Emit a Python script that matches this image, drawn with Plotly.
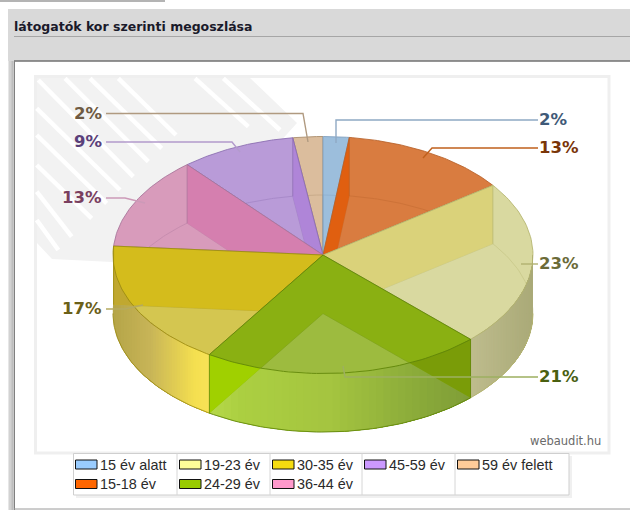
import math
import plotly.graph_objects as go

# ---- data ----
categories = ["15 év alatt", "15-18 év", "19-23 év", "24-29 év", "30-35 év", "36-44 év", "45-59 év", "59 év felett"]
values = [2.0, 13.0, 22.6, 21.5, 17.1, 12.6, 8.9, 2.3]
labels = ["2%", "13%", "23%", "21%", "17%", "13%", "9%", "2%"]
title = "látogatók kor szerinti megoszlása"
watermark = "webaudit.hu"

# ---- styles ----
legend_colors = ["#99ccff", "#ff6600", "#ffff99", "#99cc00", "#f5dc10", "#ff99cc", "#cc99ff", "#ffcc99"]
top_colors = ["#9cbedc", "#d97c40", "#d9d9a0", "#9dbb3f", "#d4c650", "#d89bbb", "#b99bd8", "#dbbd9d"]
edge_colors = ["#7f9fbf", "#b8622a", "#b5b56e", "#5f8408", "#9c8c10", "#a8749a", "#8a6cb0", "#a88a68"]
text_colors = ["#3f5a78", "#7a3508", "#6b6b38", "#4a6010", "#6b6018", "#7a3f5f", "#5a3f7a", "#6e5a42"]
line_colors = ["#8fa9c4", "#c0601c", "#b0b070", "#9db060", "#b5aa60", "#cc9ab8", "#b39bcc", "#b09a80"]
wall_start = {1: "rgba(225,91,8,.85)", 2: "rgba(217,208,112,.8)", 3: "rgba(130,171,0,.7)"}
wall_end = {3: "rgba(130,171,0,.7)", 4: "rgba(212,186,19,.85)", 5: "rgba(213,120,173,.8)", 6: "rgba(172,127,216,.8)"}
outside_start = {3: "#7a9c08"}
outside_end = {3: "#a0d000", 4: "#c0a830"}
draw_order = [7, 0, 1, 6, 5, 2, 4, 3]
side_stops = {
    2: [(470, (191, 189, 142)), (533, (170, 170, 120))],
    3: [(209, (182, 216, 74)), (240, (172, 208, 66)), (330, (165, 197, 64)), (420, (138, 170, 58)), (470, (128, 158, 56))],
    4: [(113, (181, 165, 72)), (150, (200, 181, 88)), (195, (245, 224, 80)), (209, (248, 226, 88))],
}
CX, CY, RX, RY, DEPTH = 323.0, 255.0, 210.0, 118.5, 58.5

# leader routes: anchor -> elbow -> text end, index by category
leaders = {
    0: [(336, 143), (336, 120), (538, 120)],
    1: [(423, 158), (432, 148), (538, 148)],
    2: [(521, 264), (538, 264)],
    3: [(343, 366), (345, 377), (538, 377)],
    4: [(143, 305), (125, 309), (106, 309)],
    5: [(145, 203), (125, 198), (106, 198)],
    6: [(240, 152), (232, 142), (106, 142)],
    7: [(308, 142), (303, 113.5), (106, 113.5)],
}
label_pos = {0: (537, 119.5, "left"), 1: (537, 147.5, "left"), 2: (537, 263.5, "left"), 3: (537, 376.5, "left"),
             4: (104, 308.5, "right"), 5: (104, 197.5, "right"), 6: (104, 141.5, "right"), 7: (104, 113, "right")}

# geometry from values
cum = [0]
for v in values:
    cum.append(cum[-1] + v)
total = cum[-1]
ang = [c / total * 2 * math.pi for c in cum]


def P(t, dy=0.0):
    return CX + RX * math.sin(t), CY - RY * math.cos(t) + dy


def arc(a, b, dy=0.0, n=60):
    return [P(a + (b - a) * i / n, dy) for i in range(n + 1)]


def lerp(stops, x):
    if x <= stops[0][0]:
        return stops[0][1]
    for (x0, c0), (x1, c1) in zip(stops, stops[1:]):
        if x <= x1:
            f = (x - x0) / (x1 - x0)
            return tuple(c0[k] + (c1[k] - c0[k]) * f for k in range(3))
    return stops[-1][1]


fig = go.Figure()


def poly(pts, fill, line="rgba(0,0,0,0)", width=0.0):
    xs = [p[0] for p in pts] + [pts[0][0]]
    ys = [p[1] for p in pts] + [pts[0][1]]
    fig.add_trace(go.Scatter(x=xs, y=ys, mode="lines", fill="toself", fillcolor=fill,
                             line=dict(color=line, width=width), hoverinfo="skip", showlegend=False))


def path(pts, color, width=1.0, opacity=1.0):
    fig.add_trace(go.Scatter(x=[p[0] for p in pts], y=[p[1] for p in pts], mode="lines", opacity=opacity,
                             line=dict(color=color, width=width), hoverinfo="skip", showlegend=False))


def wall(t, color):
    poly([(CX, CY), P(t), P(t, DEPTH), (CX, CY + DEPTH)], color)


def outside_part(t, color):
    a, b = P(t), P(t, DEPTH)
    c = (CX, CY + DEPTH)
    pts = [a, b]
    hit = None
    for i in range(1, 201):
        f = i / 200
        x, y = b[0] + (c[0] - b[0]) * f, b[1] + (c[1] - b[1]) * f
        if ((x - CX) / RX) ** 2 + ((y - CY) / RY) ** 2 <= 1:
            hit = (x, y)
            break
    pts.append(hit)
    th = math.atan2((hit[0] - CX) / RX, -(hit[1] - CY) / RY)
    if th < 0:
        th += 2 * math.pi
    pts += arc(th, t, 0, 30)
    poly(pts, color)


for i in draw_order:
    a, b = ang[i], ang[i + 1]
    top_pts = [(CX, CY)] + arc(a, b)
    poly(top_pts, top_colors[i])
    # bottom face outline seen through the slice
    path([(CX, CY + DEPTH)] + arc(a, b, DEPTH) + [(CX, CY + DEPTH)], edge_colors[i], 1, 0.35)
    # outer side wall, strips overlap so no seams show
    if i in side_stops:
        lo, hi = max(a, math.pi / 2), min(b, 3 * math.pi / 2)
        x_lo = min(P(lo)[0], P(hi)[0])
        x_hi = max(P(lo)[0], P(hi)[0])
        steps = 36
        # equal widths in x, painted so that each strip overlaps its neighbour
        for k in range(steps):
            xa = x_lo + (x_hi - x_lo) * k / steps
            col = lerp(side_stops[i], xa + (x_hi - x_lo) / steps / 2)
            css = "rgb(%d,%d,%d)" % col
            # angle on the front half for this x
            ta = math.pi - math.asin(max(-1, min(1, (xa - CX) / RX)))
            ta = max(lo, min(hi, ta))
            # paint from this x across to the right end of the slice side
            start, end = (lo, ta) if lo < ta else (ta, lo)
            poly(arc(start, end, 0, 40) + arc(end, start, DEPTH, 40), css)
        path(arc(lo, hi, DEPTH), edge_colors[i], 1, 0.8)
    if i in wall_start:
        wall(a, wall_start[i])
    if i in wall_end:
        wall(b, wall_end[i])
    if i in outside_start:
        outside_part(a, outside_start[i])
    if i in outside_end:
        outside_part(b, outside_end[i])
    if i in wall_start:
        path([P(a), P(a, DEPTH)], edge_colors[i], 1, 0.7)
    if i in wall_end:
        path([P(b), P(b, DEPTH)], edge_colors[i], 1, 0.7)
    path([(CX, CY)] + arc(a, b) + [(CX, CY)], edge_colors[i], 1, 0.85)

for i in range(len(values)):
    path(leaders[i], line_colors[i], 1.4)

shapes = []


def rect(x0, y0, x1, y1, fill, line=None, w=1, layer="below"):
    shapes.append(dict(type="rect", x0=x0, y0=y0, x1=x1, y1=y1, fillcolor=fill, layer=layer,
                       line=dict(color=line or "rgba(0,0,0,0)", width=w if line else 0)))


def seg(x0, y0, x1, y1, color, w=1, layer="below"):
    shapes.append(dict(type="line", x0=x0, y0=y0, x1=x1, y1=y1, layer=layer, line=dict(color=color, width=w)))


# page chrome
rect(0, 0, 165, 2, "#b4b4b4")
rect(8, 9, 630, 61, "#d9d9d9")
rect(8, 61, 14, 510, "#d2d2d2")
seg(8.5, 61, 8.5, 510, "#e6e6e6", 1)
seg(12.5, 61, 12.5, 510, "#bdbdbd", 2)
seg(14, 36.5, 630, 36.5, "#a6a6a6", 1)
seg(14, 61, 630, 61, "#707070", 1.5)
seg(14.5, 61, 14.5, 510, "#808080", 1)
seg(14, 509, 630, 509, "#9a9a9a", 1)
# plot panel and hatch
rect(35.5, 76.5, 609, 453, "#ffffff", "#efefef", 3)
shapes.append(dict(type="path", layer="below", fillcolor="#f2f2f2", line=dict(width=0),
                   path="M37,78 L250,78 L297,123 L200,230 L112,262 L52,259 L37,243 Z"))
stripes = [(85, 60, 370, 350), (165, 55, 415, 305), (240, 55, 455, 265), (325, 55, 498, 225),
           (555, 55, 715, 200), (640, 55, 810, 210), (80, 145, 330, 390), (80, 225, 290, 430),
           (80, 315, 245, 475), (80, 395, 185, 530), (80, 480, 145, 570)]
for x0, y0, x1, y1 in stripes:
    seg(x0 / 3 + 10, y0 / 3 + 60, x1 / 3 + 10, y1 / 3 + 60, "#ffffff", 4.5)

# legend
rect(76, 456, 572, 498, "#f0f0f0")
rect(73.5, 453.5, 569, 495, "#ffffff", "#cfcfcf", 1)
col_sep = [177, 270, 362, 455]
for x in col_sep:
    seg(x, 453.5, x, 495, "#d6d6d6", 1)
col_x = [75, 179, 272, 364, 457]
annotations = []
cells = [(0, 0), (0, 1), (1, 0), (1, 1), (2, 0), (2, 1), (3, 0), (4, 0)]
row_y = [464.5, 484]
for idx, name in enumerate(categories):
    c, r = cells[idx]
    rect(col_x[c] + .5, row_y[r] - 4.5, col_x[c] + 22, row_y[r] + 4.5, legend_colors[idx], "#111111", 1)
    annotations.append(dict(x=col_x[c] + 22.5, y=row_y[r], text=name, xanchor="left", yanchor="middle",
                            showarrow=False, font=dict(family="Liberation Sans", size=14.4, color="#2a2a2a"),
                            xref="x", yref="y"))

for i, lab in enumerate(labels):
    x, y, anc = label_pos[i]
    annotations.append(dict(x=x, y=y, text="<b>%s</b>" % lab, xanchor=anc, yanchor="middle", showarrow=False,
                            font=dict(family="DejaVu Sans", size=16.5, color=text_colors[i]), xref="x", yref="y"))
annotations.append(dict(x=12, y=26.5, text="<b>%s</b>" % title, xanchor="left", yanchor="middle", showarrow=False,
                        font=dict(family="DejaVu Sans", size=12.5, color="#1a1a2a"), xref="x", yref="y"))
annotations.append(dict(x=603, y=441, text=watermark, xanchor="right", yanchor="middle", showarrow=False,
                        font=dict(family="DejaVu Sans", size=11.5, color="#6a6a6a"), xref="x", yref="y"))

fig.update_layout(width=630, height=510, margin=dict(l=0, r=0, t=0, b=0), paper_bgcolor="#ffffff",
                  plot_bgcolor="#ffffff", shapes=shapes, annotations=annotations, showlegend=False,
                  xaxis=dict(range=[0, 630], visible=False, fixedrange=True),
                  yaxis=dict(range=[510, 0], visible=False, fixedrange=True))
fig.write_html("out.html", config=dict(displayModeBar=False),
               post_script="document.body.style.margin='0';document.body.style.overflow='hidden';")
